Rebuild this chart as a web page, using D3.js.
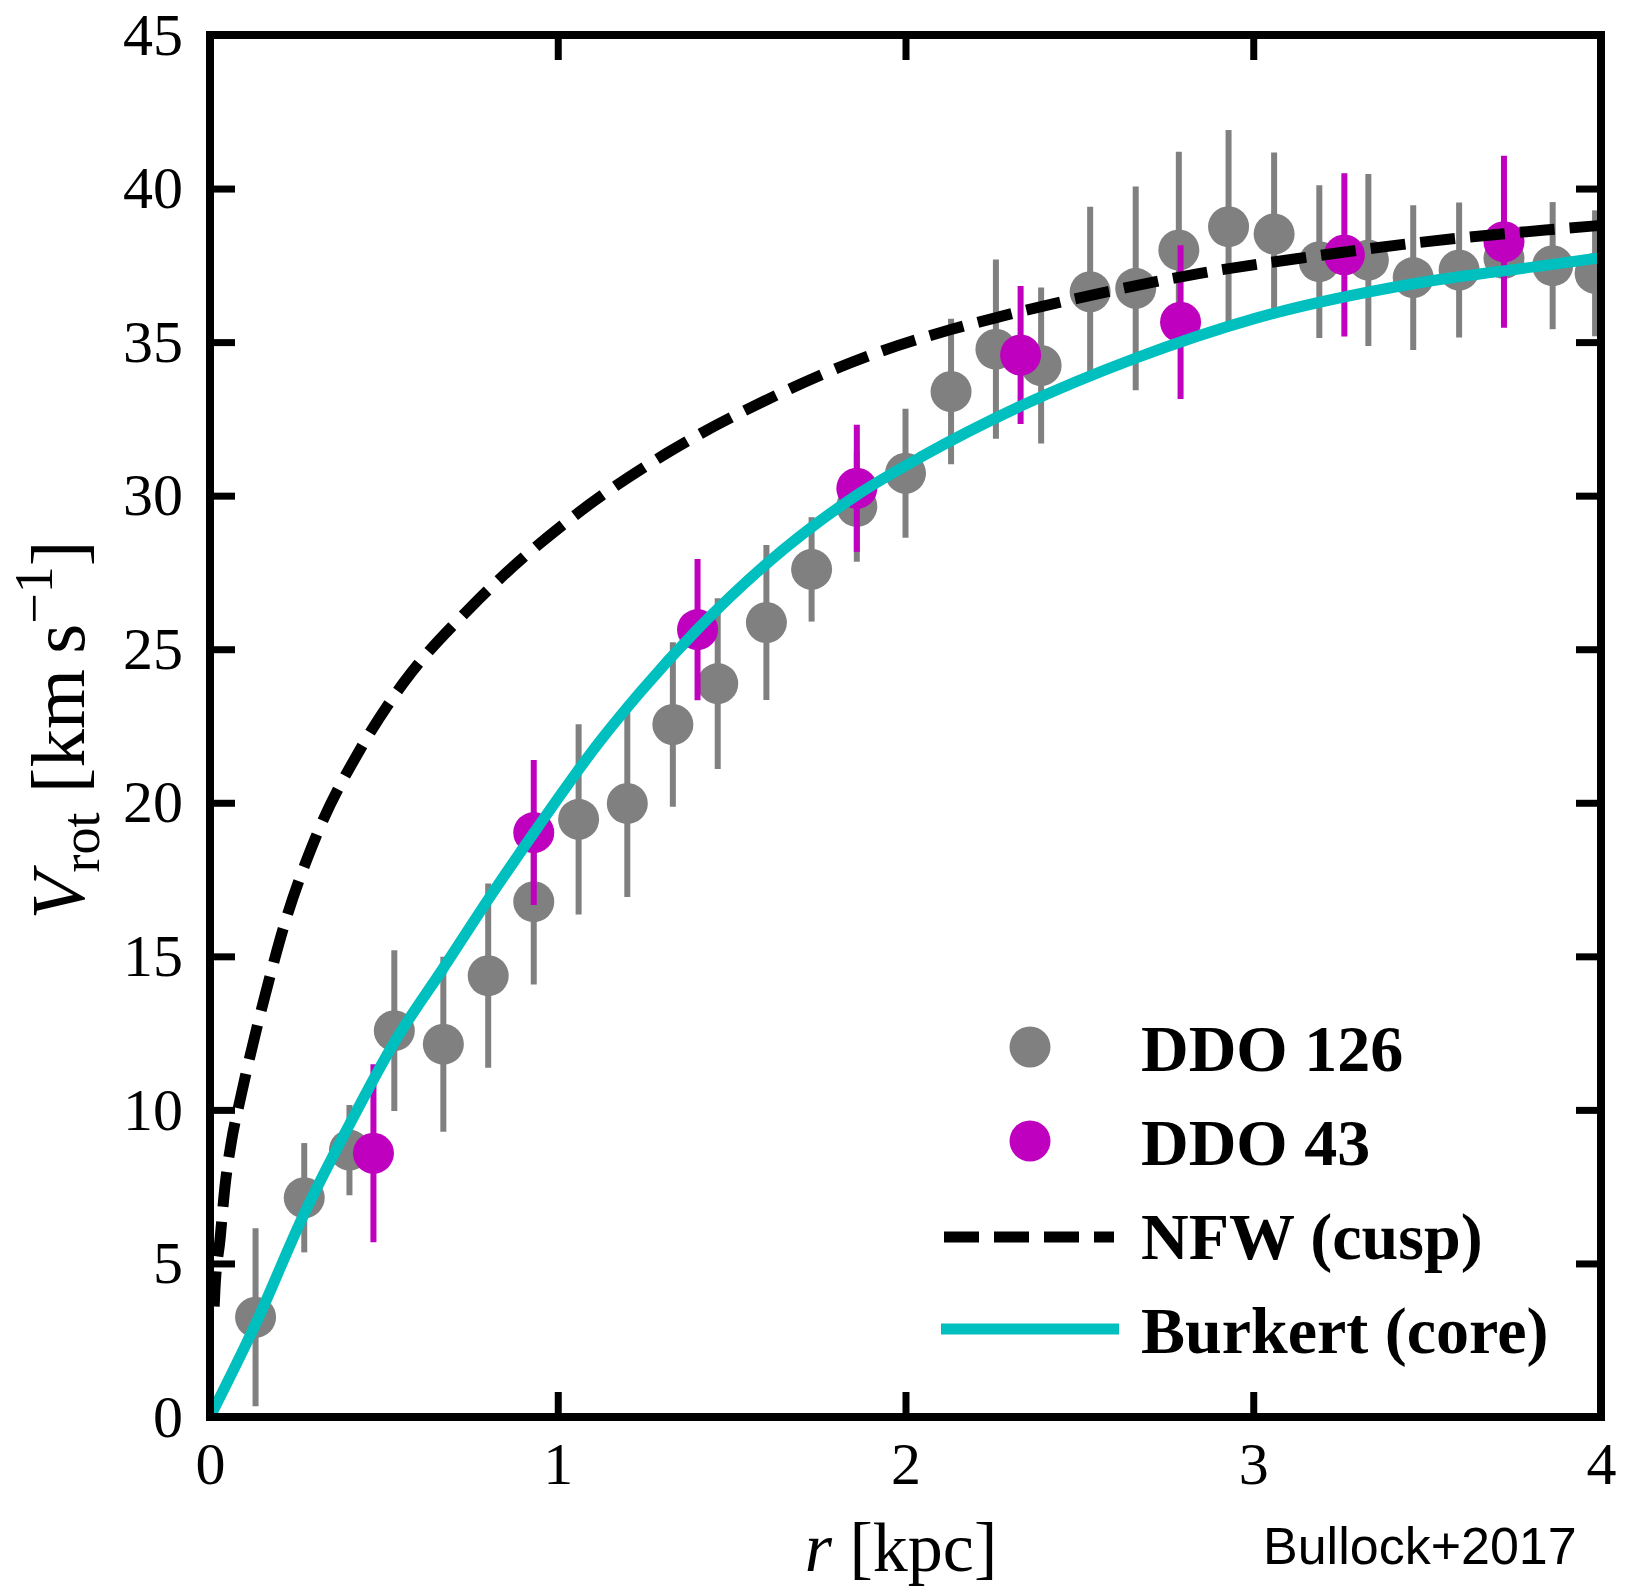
<!DOCTYPE html>
<html>

<head>
    <title>Rotation curves</title>
    <script src="https://d3js.org/d3.v7.min.js"></script>
    <style>
        body { margin: 0; background: #fff; }
    </style>
</head>

<body>
    <div id="chart"></div>
</body>

<script type="text/javascript">
    // DDO 126 (gray): radius, velocity, error
    var ddo126_r = [0.131, 0.271, 0.401, 0.530, 0.671, 0.80, 0.931, 1.06, 1.20, 1.331, 1.46, 1.60, 1.73, 1.86, 2.00,
        2.131, 2.26, 2.39, 2.531, 2.662, 2.786, 2.929, 3.06, 3.19, 3.331, 3.46, 3.592, 3.721, 3.861, 3.983];
    var ddo126_v = [3.25, 7.14, 8.69, 12.58, 12.14, 14.37, 16.78, 19.46, 19.98, 22.55, 23.88, 25.87, 27.6, 29.65, 30.73,
        33.39, 34.77, 34.24, 36.64, 36.75, 38.0, 38.76, 38.52, 37.62, 37.67, 37.1, 37.35, 37.73, 37.49, 37.24];
    var ddo126_err = [2.9, 1.78, 1.47, 2.62, 2.85, 3.0, 2.7, 3.1, 3.05, 2.68, 2.78, 2.52, 1.7, 1.8, 2.1,
        2.37, 2.92, 2.54, 2.77, 3.32, 3.2, 3.15, 2.65, 2.49, 2.8, 2.36, 2.2, 2.1, 2.07, 2.05];

    // DDO 43 (magenta)
    var ddo43_r = [0.470, 0.931, 1.402, 1.86, 2.331, 2.791, 3.262, 3.721];
    var ddo43_v = [8.59, 19.03, 25.64, 30.24, 34.58, 35.65, 37.84, 38.27];
    var ddo43_err = [2.9, 2.36, 2.3, 2.07, 2.25, 2.5, 2.66, 2.8];

    // NFW (cusp) curve
    var nfw_r = [0.012, 0.014, 0.029, 0.043, 0.062, 0.086, 0.115, 0.16, 0.213, 0.303, 0.435, 0.556, 0.744, 1.045,
        1.313, 1.601, 1.888, 2.128, 2.272, 2.559, 2.847, 3.134, 3.46, 3.84, 4.0];
    var nfw_v = [3.6, 4.1, 5.8, 7.5, 9.0, 10.3, 11.75, 13.8, 16.0, 18.85, 21.8, 23.9, 26.3, 29.32,
        31.38, 33.12, 34.53, 35.4, 35.83, 36.59, 37.24, 37.73, 38.22, 38.65, 38.8];

    // Burkert (core) curve
    var burkert_r = [0, 0.13, 0.27, 0.40, 0.53, 0.67, 0.80, 0.93, 1.121, 1.237, 1.40, 1.596, 1.86, 2.046,
        2.328, 2.66, 3.008, 3.46, 3.84, 4.0];
    var burkert_v = [0, 3.0, 6.6, 9.5, 12.2, 14.6, 16.85, 19.0, 22.0, 23.6, 25.63, 27.74, 30.02, 31.27,
        32.9, 34.47, 35.78, 36.9, 37.5, 37.75];

    var x_ticks = [0, 1, 2, 3, 4];
    var y_ticks = [0, 5, 10, 15, 20, 25, 30, 35, 40, 45];

    var legend_labels = ["DDO 126", "DDO 43", "NFW (cusp)", "Burkert (core)"];

    var width = 1635;
    var height = 1588;
    var pLeft = 210, pRight = 1601, pTop = 35, pBottom = 1417;
    var serif = "'Liberation Serif', 'Times New Roman', serif";

    var svg = d3.select("#chart")
        .append("svg")
        .attr("width", width)
        .attr("height", height)
        .style("display", "block");

    var x_scale = d3.scaleLinear().domain([0, 4]).range([pLeft, pRight]);
    var y_scale = d3.scaleLinear().domain([0, 45]).range([pBottom, pTop]);

    svg.append("clipPath").attr("id", "plot-clip")
        .append("rect")
        .attr("x", pLeft).attr("y", pTop)
        .attr("width", pRight - pLeft).attr("height", pBottom - pTop);

    var plot = svg.append("g").attr("clip-path", "url(#plot-clip)");

    function zip(r, v, e) {
        return r.map(function (d, i) { return { r: d, v: v[i], e: e ? e[i] : 0 }; });
    }

    function drawSeries(data, color) {
        var g = plot.append("g");
        g.selectAll("line")
            .data(data)
            .enter()
            .append("line")
            .attr("x1", function (d) { return x_scale(d.r); })
            .attr("x2", function (d) { return x_scale(d.r); })
            .attr("y1", function (d) { return y_scale(d.v - d.e); })
            .attr("y2", function (d) { return y_scale(d.v + d.e); })
            .attr("stroke", color)
            .attr("stroke-width", 6);
        g.selectAll("circle")
            .data(data)
            .enter()
            .append("circle")
            .attr("cx", function (d) { return x_scale(d.r); })
            .attr("cy", function (d) { return y_scale(d.v); })
            .attr("r", 20.5)
            .attr("fill", color);
    }

    drawSeries(zip(ddo126_r, ddo126_v, ddo126_err), "#808080");
    drawSeries(zip(ddo43_r, ddo43_v, ddo43_err), "#bf00bf");

    // model curves
    var line = d3.line()
        .x(function (d) { return x_scale(d.r); })
        .y(function (d) { return y_scale(d.v); })
        .curve(d3.curveMonotoneX);

    plot.append("path")
        .datum(zip(burkert_r, burkert_v))
        .attr("d", line)
        .attr("fill", "none")
        .attr("stroke", "#00bfbf")
        .attr("stroke-width", 11);

    plot.append("path")
        .datum(zip(nfw_r, nfw_v))
        .attr("d", line)
        .attr("fill", "none")
        .attr("stroke", "#000")
        .attr("stroke-width", 11)
        .attr("stroke-dasharray", "35 15");

    // axes, ticks pointing inward on all four sides
    function styleAxis(g) {
        g.select(".domain").remove();
        g.selectAll(".tick line").attr("stroke", "#000").attr("stroke-width", 7);
        g.selectAll(".tick text")
            .attr("fill", "#000")
            .style("font-family", serif)
            .style("font-size", "60px");
    }

    svg.append("g")
        .attr("transform", "translate(0," + pBottom + ")")
        .call(d3.axisBottom(x_scale).tickValues(x_ticks).tickSize(-25).tickPadding(24).tickFormat(d3.format("d")))
        .call(styleAxis);

    svg.append("g")
        .attr("transform", "translate(" + pLeft + ",0)")
        .call(d3.axisLeft(y_scale).tickValues(y_ticks).tickSize(-25).tickPadding(27).tickFormat(d3.format("d")))
        .call(styleAxis);

    svg.append("g")
        .attr("transform", "translate(0," + pTop + ")")
        .call(d3.axisTop(x_scale).tickValues(x_ticks).tickSize(-25).tickFormat(""))
        .call(styleAxis);

    svg.append("g")
        .attr("transform", "translate(" + pRight + ",0)")
        .call(d3.axisRight(y_scale).tickValues(y_ticks).tickSize(-25).tickFormat(""))
        .call(styleAxis);

    // frame
    svg.append("rect")
        .attr("x", pLeft).attr("y", pTop)
        .attr("width", pRight - pLeft).attr("height", pBottom - pTop)
        .attr("fill", "none")
        .attr("stroke", "#000")
        .attr("stroke-width", 8);

    // axis labels
    var xl = svg.append("text")
        .attr("x", 901).attr("y", 1571)
        .attr("text-anchor", "middle")
        .style("font-family", serif)
        .style("font-size", "70px");
    xl.append("tspan").style("font-style", "italic").text("r");
    xl.append("tspan").text(" [kpc]");

    var yl = svg.append("text")
        .attr("transform", "translate(84,730) rotate(-90)")
        .attr("text-anchor", "middle")
        .style("font-family", serif)
        .style("font-size", "77px");
    yl.append("tspan").style("font-style", "italic").text("V");
    yl.append("tspan").attr("dy", 15).style("font-size", "54px").text("rot");
    yl.append("tspan").attr("dy", -15).text(" [km\u2009s");
    yl.append("tspan").attr("dy", -32).style("font-size", "54px").text("\u22121");
    yl.append("tspan").attr("dy", 32).text("]");

    // legend
    var legend = svg.append("g");
    var rows = [1047, 1141, 1237, 1329];
    var text_base = [1071, 1165, 1259, 1353];

    legend.append("circle").attr("cx", 1030).attr("cy", rows[0]).attr("r", 20.5).attr("fill", "#808080");
    legend.append("circle").attr("cx", 1030).attr("cy", rows[1]).attr("r", 20.5).attr("fill", "#bf00bf");
    legend.append("line")
        .attr("x1", 944).attr("x2", 1114).attr("y1", rows[2]).attr("y2", rows[2])
        .attr("stroke", "#000").attr("stroke-width", 11).attr("stroke-dasharray", "35 15");
    legend.append("line")
        .attr("x1", 941).attr("x2", 1119).attr("y1", rows[3]).attr("y2", rows[3])
        .attr("stroke", "#00bfbf").attr("stroke-width", 11);

    legend.selectAll("text")
        .data(legend_labels)
        .enter()
        .append("text")
        .attr("x", 1141)
        .attr("y", function (d, i) { return text_base[i]; })
        .style("font-family", serif)
        .style("font-weight", "bold")
        .style("font-size", "66px")
        .text(function (d) { return d; });

    // credit
    svg.append("text")
        .attr("x", 1263).attr("y", 1564)
        .style("font-family", "'Liberation Sans', Arial, sans-serif")
        .style("font-size", "52px")
        .text("Bullock+2017");
</script>

</html>
